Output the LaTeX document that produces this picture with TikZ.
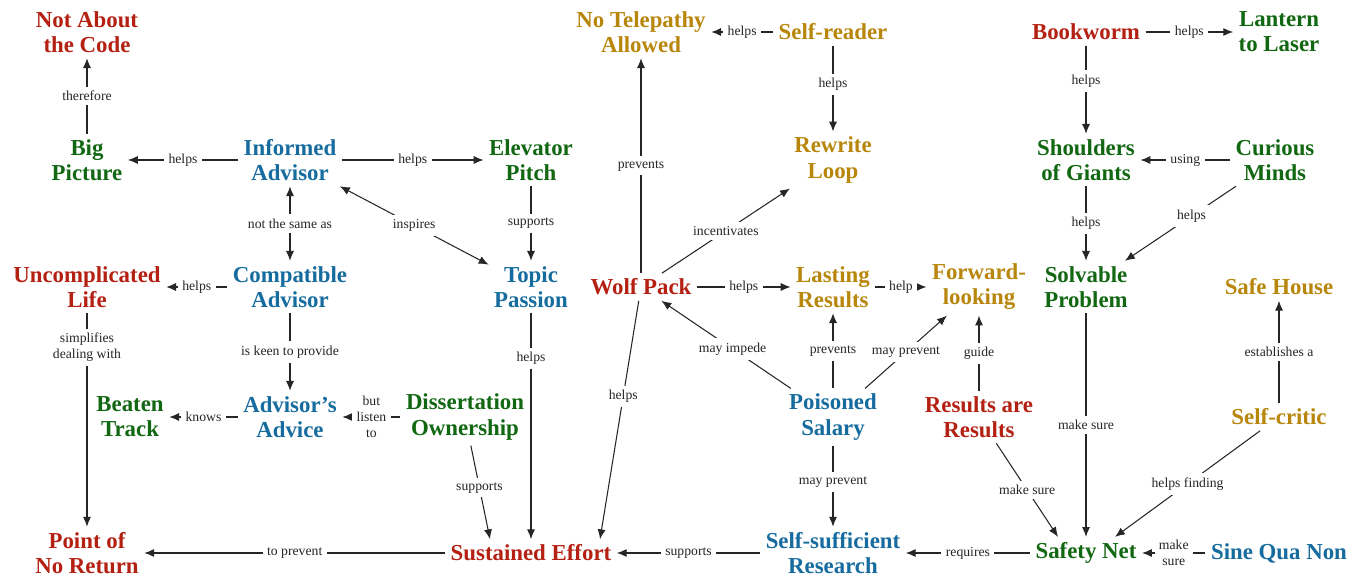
\documentclass[tikz,border=0pt]{standalone}
\usepackage{fontspec}
\setmainfont{Liberation Serif}
\usepackage{xcolor}
\usetikzlibrary{arrows.meta,calc}

\definecolor{ideared}{RGB}{180,32,18}
\definecolor{ideablue}{RGB}{22,108,158}
\definecolor{ideagreen}{RGB}{18,104,18}
\definecolor{ideagold}{RGB}{184,134,11}

\begin{document}
\begin{tikzpicture}[x=0.02cm, y=-0.02cm,
        idea/.style={font=\fontsize{13}{14.3}\selectfont\bfseries, align=center, inner sep=3pt},
        red/.style={idea, text=ideared},
        blue/.style={idea, text=ideablue},
        green/.style={idea, text=ideagreen},
        gold/.style={idea, text=ideagold},
        link/.style={-{Latex[length=5.6pt,width=4.6pt]}, draw=black!85, line width=0.6pt},
        twoway/.style={{Latex[length=5.6pt,width=4.6pt]}-{Latex[length=5.6pt,width=4.6pt]}, draw=black!85, line width=0.6pt},
        lbl/.style={font=\fontsize{7.8}{9.1}\selectfont, fill=white, inner sep=2.5pt, align=center, text=black!85}]
    \useasboundingbox (0,0) rectangle (1359,577);

    % top row
    \node[red]   (notcode)    at (87,32)   {Not About\\the Code};
    \node[gold]  (telepathy)  at (641,32)  {No Telepathy\\Allowed};
    \node[gold]  (selfreader) at (833,32)  {Self-reader};
    \node[red]   (bookworm)   at (1086,32) {Bookworm};
    \node[green] (lantern)    at (1279,32) {Lantern\\to Laser};

    % second row
    \node[green] (bigpic)     at (87,160)   {Big\\Picture};
    \node[blue]  (informed)   at (290,160)  {Informed\\Advisor};
    \node[green] (elevator)   at (531,160)  {Elevator\\Pitch};
    \node[gold]  (rewrite)    at (833,160)  {Rewrite\\Loop};
    \node[green] (shoulders)  at (1086,160) {Shoulders\\of Giants};
    \node[green] (curious)    at (1275,160) {Curious\\Minds};

    % third row
    \node[red]   (uncomp)     at (87,287)   {Uncomplicated\\Life};
    \node[blue]  (compat)     at (290,287)  {Compatible\\Advisor};
    \node[blue]  (topic)      at (531,287)  {Topic\\Passion};
    \node[red]   (wolf)       at (641,287)  {Wolf Pack};
    \node[gold]  (lasting)    at (833,287)  {Lasting\\Results};
    \node[gold]  (forward)    at (979,287)  {Forward-\\looking};
    \node[green] (solvable)   at (1086,287) {Solvable\\Problem};
    \node[gold]  (safe)       at (1279,287) {Safe House};

    % fourth row
    \node[green] (beaten)     at (130,417)  {Beaten\\Track};
    \node[blue]  (advice)     at (290,417)  {Advisor’s\\Advice};
    \node[green] (owner)      at (465,417)  {Dissertation\\Ownership};
    \node[blue]  (poisoned)   at (833,417)  {Poisoned\\Salary};
    \node[red]   (resres)     at (979,417)  {Results are\\Results};
    \node[gold]  (selfcritic) at (1279,417) {Self-critic};

    % bottom row
    \node[red]   (noreturn)   at (87,553)   {Point of\\No Return};
    \node[red]   (effort)     at (531,553)  {Sustained Effort};
    \node[blue]  (selfsuff)   at (833,553)  {Self-sufficient\\Research};
    \node[green] (safety)     at (1086,553) {Safety Net};
    \node[blue]  (sine)       at (1279,553) {Sine Qua Non};

    % advisor side
    \draw[link] (bigpic) -- node[lbl] {therefore} (notcode);
    \draw[link] (informed) -- node[lbl] {helps} (bigpic);
    \draw[link] (informed) -- node[lbl] {helps} (elevator);
    \draw[twoway] (informed) -- node[lbl] {not the same as} (compat);
    \draw[twoway] (informed) -- node[lbl] {inspires} (topic);
    \draw[link] (elevator) -- node[lbl] {supports} (topic);
    \draw[link] (compat) -- node[lbl] {helps} (uncomp);
    \draw[link] (compat) -- node[lbl] {is keen to provide} (advice);
    \draw[link] (uncomp) -- node[lbl, pos=0.16] {simplifies\\dealing with} (noreturn);
    \draw[link] (advice) -- node[lbl] {knows} (beaten);
    \draw[link] (owner) -- node[lbl] {but\\listen\\to} (advice);
    \draw[link] (owner) -- node[lbl, pos=0.45] {supports} ($(effort.north)+(-41,0)$);
    \draw[link] (topic) -- node[lbl, pos=0.2] {helps} (effort);

    % wolf pack and results
    \draw[link] (selfreader) -- node[lbl] {helps} (telepathy);
    \draw[link] (selfreader) -- node[lbl, pos=0.45] {helps} (rewrite);
    \draw[link] (wolf) -- node[lbl] {prevents} (telepathy);
    \draw[link] (wolf) -- node[lbl] {incentivates} (rewrite);
    \draw[link] (wolf) -- node[lbl, pos=0.4] {helps} ($(effort.north)+(69,0)$);
    \draw[link] (wolf) -- node[lbl] {helps} (lasting);
    \draw[link] (lasting) -- node[lbl] {help} (forward);
    \draw[link] (poisoned) -- node[lbl, pos=0.45] {may impede} (wolf);
    \draw[link] (poisoned) -- node[lbl] {prevents} (lasting);
    \draw[link] (poisoned) -- node[lbl] {may prevent} (forward);
    \draw[link] (poisoned) -- node[lbl, pos=0.45] {may prevent} (selfsuff);
    \draw[link] (resres) -- node[lbl] {guide} (forward);

    % literature side
    \draw[link] (bookworm) -- node[lbl] {helps} (lantern);
    \draw[link] (bookworm) -- node[lbl, pos=0.4] {helps} (shoulders);
    \draw[link] (curious) -- node[lbl] {using} (shoulders);
    \draw[link] (curious) -- node[lbl, pos=0.4] {helps} (solvable);
    \draw[link] (shoulders) -- node[lbl] {helps} (solvable);
    \draw[link] (selfcritic) -- node[lbl] {establishes a} (safe);
    \draw[link] (solvable) -- node[lbl] {make sure} (safety);
    \draw[link] (resres) -- node[lbl] {make sure} ($(safety.north)+(-28,0)$);
    \draw[link] (selfcritic) -- node[lbl] {helps finding} ($(safety.north)+(29,0)$);

    % bottom chain
    \draw[link] (effort) -- node[lbl] {to prevent} (noreturn);
    \draw[link] (selfsuff) -- node[lbl] {supports} (effort);
    \draw[link] (safety) -- node[lbl] {requires} (selfsuff);
    \draw[link] (sine) -- node[lbl] {make\\sure} (safety);
\end{tikzpicture}
\end{document}
